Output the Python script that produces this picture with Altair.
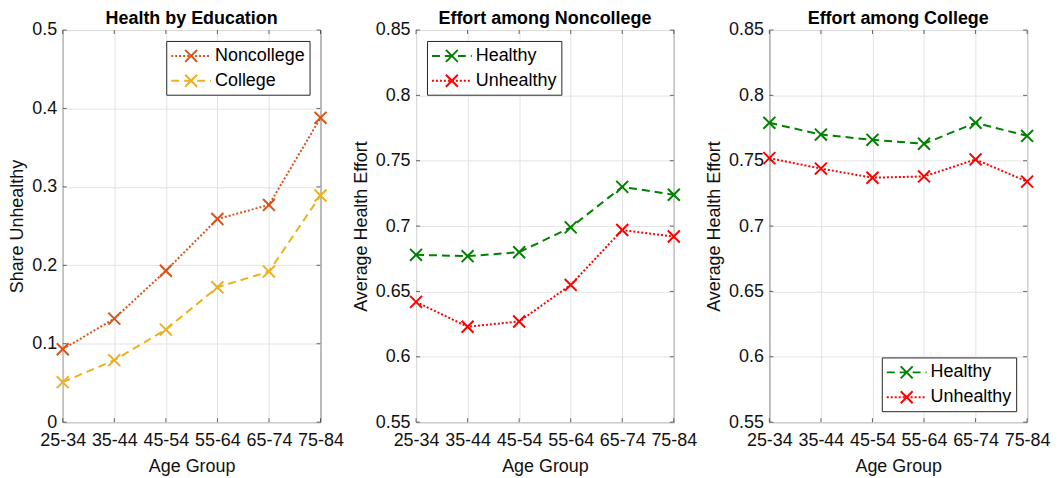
import pandas as pd
import altair as alt

ages = ["25-34", "35-44", "45-54", "55-64", "65-74", "75-84"]

# share unhealthy by education
noncollege = [0.093, 0.132, 0.193, 0.259, 0.277, 0.388]
college = [0.051, 0.079, 0.118, 0.172, 0.192, 0.289]

# average health effort, noncollege
nc_healthy = [0.678, 0.677, 0.680, 0.699, 0.730, 0.724]
nc_unhealthy = [0.642, 0.623, 0.627, 0.655, 0.697, 0.692]

# average health effort, college
c_healthy = [0.779, 0.770, 0.766, 0.763, 0.779, 0.769]
c_unhealthy = [0.752, 0.744, 0.737, 0.738, 0.751, 0.734]

share_ticks = [0, 0.1, 0.2, 0.3, 0.4, 0.5]
effort_ticks = [0.55, 0.6, 0.65, 0.7, 0.75, 0.8, 0.85]

FONT = "Liberation Sans"
FRAME = "#262626"
W, H = 259, 394
CROSS = "M-1,-1L1,1M-1,1L1,-1"
DOTTED = [2, 2]
DASHED = [8, 5]


def split_segment(x0, y0, x1, y1, n):
    # many short subpaths so the legend dash pattern leaves the cross solid
    parts = []
    for i in range(n):
        a = (x0 + (x1 - x0) * i / n, y0 + (y1 - y0) * i / n)
        b = (x0 + (x1 - x0) * (i + 1) / n, y0 + (y1 - y0) * (i + 1) / n)
        parts.append(f"M{a[0]:.3f},{a[1]:.3f}L{b[0]:.3f},{b[1]:.3f}")
    return "".join(parts)


LEGEND_SYMBOL = (
    "M-1,0H3"
    + split_segment(0.4, -0.6, 1.6, 0.6, 12)
    + split_segment(0.4, 0.6, 1.6, -0.6, 12)
)


def long_table(series):
    rows = []
    for name, values in series.items():
        for a, v in zip(ages, values):
            rows.append({"age": a, "series": name, "value": v})
    return pd.DataFrame(rows)


def panel(series, colors, dashes, title, ytitle, ydomain, yticks, orient):
    df = long_table(series)
    names = list(series)

    xscale = alt.Scale(type="point", padding=0)
    yscale = alt.Scale(domain=ydomain, nice=False, zero=False)
    x = alt.X("age:O", sort=ages, scale=xscale,
              axis=alt.Axis(title="Age Group", labelAngle=0))
    y = alt.Y("value:Q", scale=yscale,
              axis=alt.Axis(title=ytitle, values=yticks, format="~g"))

    legend = alt.Legend(title=None, orient=orient, offset=11)
    color = alt.Color("series:N", sort=names,
                      scale=alt.Scale(domain=names, range=colors),
                      legend=legend)
    dash = alt.StrokeDash("series:N", sort=names,
                          scale=alt.Scale(domain=names, range=dashes),
                          legend=legend)

    base = alt.Chart(df).encode(x=x, y=y)
    lines = base.mark_line(strokeWidth=2).encode(color=color, strokeDash=dash)
    points = base.mark_point(shape=CROSS, size=144, strokeWidth=2,
                             filled=False, opacity=1).encode(
        color=alt.Color("series:N", sort=names,
                        scale=alt.Scale(domain=names, range=colors),
                        legend=None)
    )

    # inward ticks on all four sides of the box
    ytick_df = pd.DataFrame({"value": yticks})
    xtick_df = pd.DataFrame({"age": ages})
    ytk = alt.Chart(ytick_df).mark_tick(
        orient="horizontal", size=4, thickness=1, color=FRAME
    )
    xtk = alt.Chart(xtick_df).mark_tick(
        orient="vertical", size=4, thickness=1, color=FRAME
    )
    ticks = (
        ytk.encode(y=y, x=alt.value(2))
        + ytk.encode(y=y, x=alt.value(W - 2))
        + xtk.encode(x=x, y=alt.value(2))
        + xtk.encode(x=x, y=alt.value(H - 2))
    )

    return alt.layer(lines, points, ticks).properties(
        title=title, width=W, height=H
    )


p1 = panel({"Noncollege": noncollege, "College": college},
           ["#D95319", "#EDB120"], [DOTTED, DASHED],
           "Health by Education", "Share Unhealthy",
           [0, 0.5], share_ticks, "top-right")

p2 = panel({"Healthy": nc_healthy, "Unhealthy": nc_unhealthy},
           ["#008000", "#FF0000"], [DASHED, DOTTED],
           "Effort among Noncollege", "Average Health Effort",
           [0.55, 0.85], effort_ticks, "top-left")

p3 = panel({"Healthy": c_healthy, "Unhealthy": c_unhealthy},
           ["#008000", "#FF0000"], [DASHED, DOTTED],
           "Effort among College", "Average Health Effort",
           [0.55, 0.85], effort_ticks, "bottom-right")

chart = alt.hconcat(p1, p2, p3, spacing=7).resolve_scale(
    color="independent", strokeDash="independent"
).properties(
    padding={"left": 0, "top": 0, "right": 0, "bottom": 0}
).configure(
    font=FONT
).configure_view(
    stroke=FRAME, strokeWidth=1
).configure_axis(
    labelFont=FONT, labelFontSize=18, labelColor="#111111",
    titleFont=FONT, titleFontSize=18, titleFontWeight="normal",
    titleColor="#111111",
    grid=True, gridColor="#e3e3e3", gridWidth=1,
    domain=False, ticks=False, labelPadding=6, titlePadding=5,
).configure_axisX(
    labelPadding=9, titlePadding=9,
).configure_title(
    font=FONT, fontSize=18, fontWeight="bold", color="#000000",
    offset=-7, anchor="middle",
).configure_legend(
    labelFont=FONT, labelFontSize=18, labelColor="#000000",
    strokeColor=FRAME, fillColor="white", padding=4,
    symbolType=LEGEND_SYMBOL, symbolSize=400, symbolStrokeWidth=2,
    symbolOpacity=1, labelOffset=23, rowPadding=4, cornerRadius=0,
)

chart.save("out.html", embed_options={"renderer": "svg", "actions": False})
